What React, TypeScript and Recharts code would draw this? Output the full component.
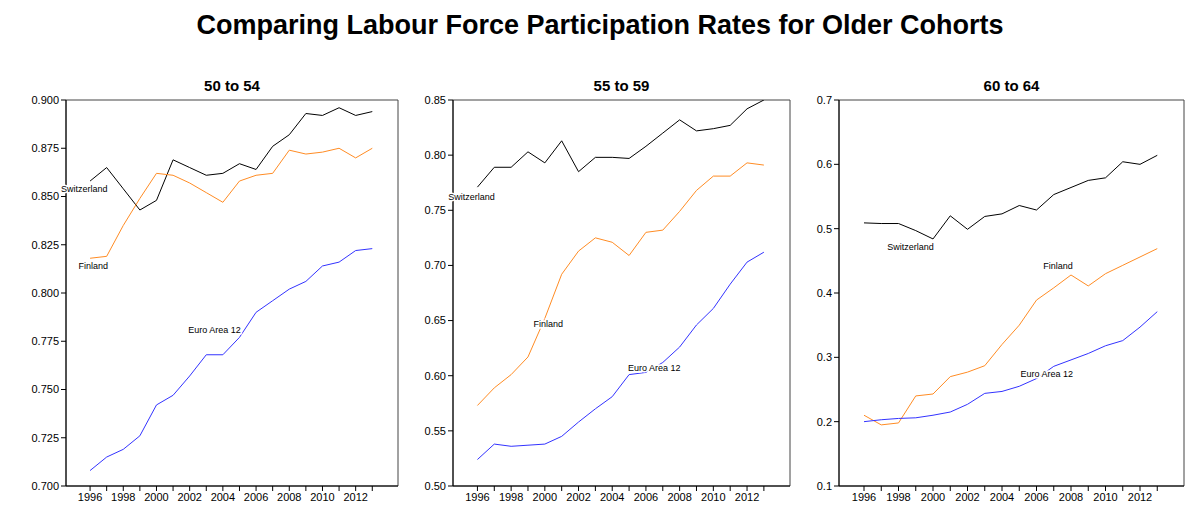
import React from "react";
import { LineChart, Line, XAxis, YAxis, ReferenceDot, ReferenceArea } from "recharts";

const years = [1996, 1997, 1998, 1999, 2000, 2001, 2002, 2003, 2004, 2005, 2006, 2007, 2008, 2009, 2010, 2011, 2012, 2013];

const swiss5054 = [0.858, 0.865, 0.854, 0.843, 0.848, 0.869, 0.865, 0.861, 0.862, 0.867, 0.864, 0.876, 0.882, 0.893, 0.892, 0.896, 0.892, 0.894];
const finland5054 = [0.818, 0.819, 0.835, 0.849, 0.862, 0.861, 0.857, 0.852, 0.847, 0.858, 0.861, 0.862, 0.874, 0.872, 0.873, 0.875, 0.87, 0.875];
const euro5054 = [0.708, 0.715, 0.719, 0.726, 0.742, 0.747, 0.757, 0.768, 0.768, 0.777, 0.79, 0.796, 0.802, 0.806, 0.814, 0.816, 0.822, 0.823];

const swiss5559 = [0.771, 0.789, 0.789, 0.803, 0.793, 0.813, 0.785, 0.798, 0.798, 0.797, 0.808, 0.82, 0.832, 0.822, 0.824, 0.827, 0.842, 0.85];
const finland5559 = [0.573, 0.589, 0.601, 0.617, 0.652, 0.692, 0.713, 0.725, 0.721, 0.709, 0.73, 0.732, 0.749, 0.768, 0.781, 0.781, 0.793, 0.791];
const euro5559 = [0.524, 0.538, 0.536, 0.537, 0.538, 0.545, 0.558, 0.57, 0.581, 0.601, 0.603, 0.612, 0.626, 0.646, 0.661, 0.683, 0.703, 0.712];

const swiss6064 = [0.509, 0.508, 0.508, 0.497, 0.484, 0.52, 0.499, 0.519, 0.523, 0.536, 0.529, 0.553, 0.564, 0.575, 0.579, 0.604, 0.6, 0.614];
const finland6064 = [0.21, 0.195, 0.198, 0.24, 0.243, 0.27, 0.277, 0.287, 0.32, 0.35, 0.389, 0.408, 0.428, 0.411, 0.43, 0.443, 0.456, 0.469];
const euro6064 = [0.2, 0.203, 0.205, 0.206, 0.21, 0.215, 0.227, 0.244, 0.247, 0.255, 0.267, 0.286, 0.296, 0.306, 0.318, 0.326, 0.347, 0.371];

const ticks5054 = [0.7, 0.725, 0.75, 0.775, 0.8, 0.825, 0.85, 0.875, 0.9];
const ticks5559 = [0.5, 0.55, 0.6, 0.65, 0.7, 0.75, 0.8, 0.85];
const ticks6064 = [0.1, 0.2, 0.3, 0.4, 0.5, 0.6, 0.7];

const X_DOMAIN: [number, number] = [1994.55, 2014.55];
const COLORS = { swiss: "#000000", finland: "#ff8c24", euro: "#3333ff" };
const FONT = "Arial, 'Liberation Sans', sans-serif";

const build = (s: number[], f: number[], e: number[]) =>
  years.map((year, i) => ({ year, swiss: s[i], finland: f[i], euro: e[i] }));

type Note = { text: string; x: number; y: number };

const NoteLabel = ({ viewBox, value }: any) => (
  <text
    x={viewBox.x}
    y={viewBox.y}
    textAnchor="middle"
    dominantBaseline="central"
    fontSize={9}
    fontFamily={FONT}
    fill="#000"
    stroke="#fff"
    strokeWidth={3}
    paintOrder="stroke"
  >
    {value}
  </text>
);

function Panel(props: {
  title: string;
  left: number;
  width: number;
  data: any[];
  domain: [number, number];
  ticks: number[];
  fmt: (v: number) => string;
  notes: Note[];
}) {
  const { title, left, width, data, domain, ticks, fmt, notes } = props;
  return (
    <div style={{ position: "absolute", left, top: 70 }}>
      <div
        style={{
          position: "absolute",
          top: 7,
          left: 46,
          width: width - 58,
          textAlign: "center",
          fontFamily: FONT,
          fontWeight: "bold",
          fontSize: 15,
        }}
      >
        {title}
      </div>
      <LineChart width={width} height={456} data={data} margin={{ top: 30, right: 12, bottom: 10, left: 0 }}>
        <XAxis
          dataKey="year"
          type="number"
          domain={X_DOMAIN}
          ticks={years}
          interval={0}
          tickFormatter={(v) => (v % 2 === 0 ? String(v) : "")}
          stroke="#000"
          tick={{ fill: "#000", fontSize: 11, fontFamily: FONT }}
          tickSize={5}
          height={30}
        />
        <YAxis
          domain={domain}
          ticks={ticks}
          allowDataOverflow
          tickFormatter={fmt}
          stroke="#000"
          tick={{ fill: "#000", fontSize: 11, fontFamily: FONT }}
          tickSize={5}
          width={46}
        />
        <ReferenceArea x1={X_DOMAIN[0]} x2={X_DOMAIN[1]} y1={domain[0]} y2={domain[1]} fill="none" stroke="#444" strokeWidth={1} ifOverflow="extendDomain" />
        <Line dataKey="swiss" stroke={COLORS.swiss} strokeWidth={1} dot={false} isAnimationActive={false} />
        <Line dataKey="finland" stroke={COLORS.finland} strokeWidth={1} dot={false} isAnimationActive={false} />
        <Line dataKey="euro" stroke={COLORS.euro} strokeWidth={1} dot={false} isAnimationActive={false} />
        {notes.map((n) => (
          <ReferenceDot key={n.text} x={n.x} y={n.y} r={0} fill="none" stroke="none" label={<NoteLabel value={n.text} />} />
        ))}
      </LineChart>
    </div>
  );
}

export default function App() {
  return (
    <div style={{ position: "absolute", left: 0, top: 0, width: 1200, height: 526, background: "#fff" }}>
      <div
        style={{
          position: "absolute",
          top: 10,
          width: 1200,
          textAlign: "center",
          fontFamily: FONT,
          fontWeight: "bold",
          fontSize: 27,
        }}
      >
        Comparing Labour Force Participation Rates for Older Cohorts
      </div>
      <Panel
        title="50 to 54"
        left={20}
        width={390}
        data={build(swiss5054, finland5054, euro5054)}
        domain={[0.7, 0.9]}
        ticks={ticks5054}
        fmt={(v) => v.toFixed(3)}
        notes={[
          { text: "Switzerland", x: 1995.65, y: 0.854 },
          { text: "Finland", x: 1996.2, y: 0.814 },
          { text: "Euro Area 12", x: 2003.5, y: 0.781 },
        ]}
      />
      <Panel
        title="55 to 59"
        left={407}
        width={395}
        data={build(swiss5559, finland5559, euro5559)}
        domain={[0.5, 0.85]}
        ticks={ticks5559}
        fmt={(v) => v.toFixed(2)}
        notes={[
          { text: "Switzerland", x: 1995.65, y: 0.762 },
          { text: "Finland", x: 2000.2, y: 0.647 },
          { text: "Euro Area 12", x: 2006.5, y: 0.607 },
        ]}
      />
      <Panel
        title="60 to 64"
        left={793}
        width={403}
        data={build(swiss6064, finland6064, euro6064)}
        domain={[0.1, 0.7]}
        ticks={ticks6064}
        fmt={(v) => v.toFixed(1)}
        notes={[
          { text: "Switzerland", x: 1998.7, y: 0.471 },
          { text: "Finland", x: 2007.25, y: 0.442 },
          { text: "Euro Area 12", x: 2006.6, y: 0.274 },
        ]}
      />
    </div>
  );
}
